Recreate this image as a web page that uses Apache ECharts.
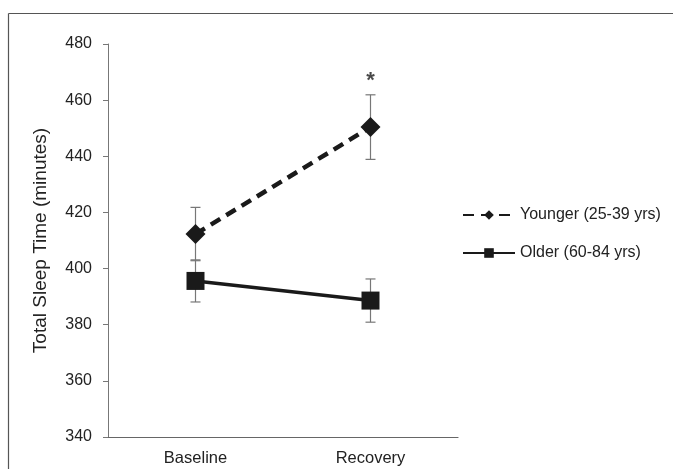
<!DOCTYPE html>
<html><head><meta charset="utf-8">
<script src="https://cdn.jsdelivr.net/npm/echarts@6/dist/echarts.min.js"></script>
<style>html,body{margin:0;padding:0;background:#fff}#c{width:673px;height:469px}</style>
</head><body><div id="c"></div>
<script>
const categories = ['Baseline', 'Recovery'];
const youngerMean = [412.3, 450.4];
const youngerErr = [9.5, 11.5];
const olderMean = [395.6, 388.6];
const olderErr = [7.5, 7.7];
const yTicks = [340, 360, 380, 400, 420, 440, 460, 480];
const sigMarks = ['', '*'];
const sigValue = [null, 467];

const chart = echarts.init(document.getElementById('c'));
const font = 'Liberation Sans, Arial, sans-serif';
const txt = '#222';

function errSeries(name, means, errs) {
  return {
    type: 'custom', name: name + ' err', silent: true, z: 1,
    data: means.map((m, i) => [i, m - errs[i], m + errs[i]]),
    renderItem: function (params, api) {
      const lo = api.coord([api.value(0), api.value(1)]);
      const hi = api.coord([api.value(0), api.value(2)]);
      const w = 5;
      const st = { stroke: '#777', lineWidth: 1.2 };
      return { type: 'group', children: [
        { type: 'line', shape: { x1: lo[0], y1: lo[1], x2: hi[0], y2: hi[1] }, style: st },
        { type: 'line', shape: { x1: lo[0] - w, y1: lo[1], x2: lo[0] + w, y2: lo[1] }, style: st },
        { type: 'line', shape: { x1: hi[0] - w, y1: hi[1], x2: hi[0] + w, y2: hi[1] }, style: st }
      ]};
    }
  };
}

chart.setOption({
  animation: false,
  backgroundColor: '#fff',
  textStyle: { fontFamily: font },
  graphic: [
    { type: 'line', shape: { x1: 8.5, y1: 13.5, x2: 673, y2: 13.5 }, style: { stroke: '#555', lineWidth: 1.2 } },
    { type: 'line', shape: { x1: 8.5, y1: 13.5, x2: 8.5, y2: 469 }, style: { stroke: '#555', lineWidth: 1.2 } }
  ],
  grid: { left: 108, top: 44, right: 215, bottom: 32 },
  legend: {
    orient: 'vertical', left: 457, top: 202, itemGap: 22,
    itemWidth: 52, itemHeight: 12,
    textStyle: { fontFamily: font, fontSize: 16, color: txt },
    data: ['Younger (25-39 yrs)', 'Older (60-84 yrs)']
  },
  xAxis: {
    type: 'category', data: categories, boundaryGap: true,
    axisLine: { lineStyle: { color: '#666', width: 1.2 } },
    axisTick: { show: false },
    axisLabel: { color: txt, fontSize: 16.5, fontFamily: font, margin: 13 }
  },
  yAxis: {
    type: 'value', min: yTicks[0], max: yTicks[yTicks.length - 1], interval: 20,
    name: 'Total Sleep Time (minutes)', nameLocation: 'middle', nameGap: 58,
    nameTextStyle: { color: txt, fontSize: 19, fontFamily: font },
    axisLine: { show: true, lineStyle: { color: '#777', width: 1 } },
    axisTick: { show: true, length: 5, lineStyle: { color: '#777' } },
    axisLabel: { color: txt, fontSize: 16, fontFamily: font, margin: 16 },
    splitLine: { show: false }
  },
  series: [
    errSeries('Younger', youngerMean, youngerErr),
    errSeries('Older', olderMean, olderErr),
    {
      name: 'Younger (25-39 yrs)', type: 'line', data: youngerMean, z: 3,
      symbol: 'diamond', symbolSize: 20,
      lineStyle: { color: '#1a1a1a', width: 4.5, type: [11, 7] },
      itemStyle: { color: '#1a1a1a' }
    },
    {
      name: 'Older (60-84 yrs)', type: 'line', data: olderMean, z: 3,
      symbol: 'rect', symbolSize: 18,
      lineStyle: { color: '#1a1a1a', width: 3.5 },
      itemStyle: { color: '#1a1a1a' }
    },
    {
      name: 'sig', type: 'scatter', symbolSize: 0, silent: true,
      data: sigValue.map((v, i) => [i, v]),
      label: { show: true, position: 'inside', formatter: p => sigMarks[p.dataIndex], fontSize: 22, fontWeight: 'bold', color: '#1a1a1a', fontFamily: font }
    }
  ]
});
</script></body></html>
